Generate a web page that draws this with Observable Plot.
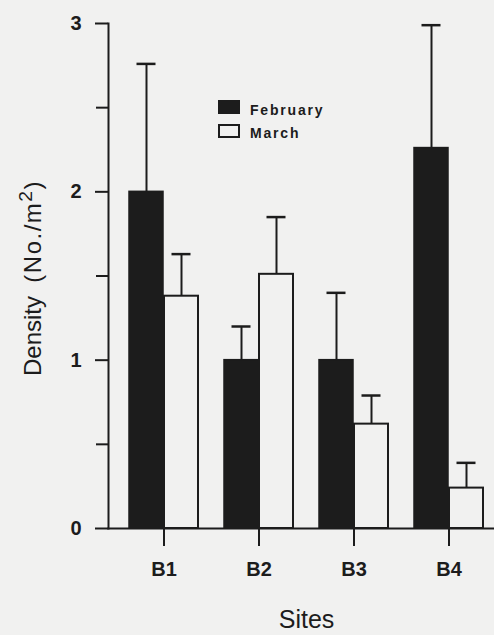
<!DOCTYPE html>
<html>
<head>
<meta charset="utf-8">
<script src="https://cdn.jsdelivr.net/npm/d3@7"></script>
<script src="https://cdn.jsdelivr.net/npm/@observablehq/plot@0.6"></script>
<style>
  html, body { margin: 0; padding: 0; background: #f1f1f0; }
  #wrap { position: relative; width: 494px; height: 635px; overflow: hidden;
          font-family: "Liberation Sans", Arial, Helvetica, sans-serif; color: #1c1c1c; }
  #wrap svg { position: absolute; left: 0; top: 0; }
  #ylab { position: absolute; left: 32.5px; top: 278px; line-height: 24px;
          transform: translate(-50%, -50%) rotate(-90deg); white-space: nowrap;
          font-size: 24px; }
  #ylab .par { letter-spacing: 1.5px; }
  #ylab sup { font-size: 0.8em; vertical-align: 0.45em; line-height: 0; }
  .sw { position: absolute; left: 218px; width: 22px; height: 14px; box-sizing: border-box; }
  .lt { position: absolute; left: 250px; font-size: 14px; line-height: 14px;
        font-weight: bold; letter-spacing: 1.8px; white-space: nowrap; }
</style>
</head>
<body>
<div id="wrap">
  <div id="ylab">Density&nbsp;&nbsp;<span class="par">(No./m<sup>2</sup>)</span></div>
</div>
<script>
// ---- data ----
const sites = ["B1", "B2", "B3", "B4"];
const months = ["February", "March"];
const febMean = [2.00, 1.00, 1.00, 2.26];
const febSE   = [0.76, 0.20, 0.40, 0.73];
const marMean = [1.38, 1.51, 0.62, 0.24];
const marSE   = [0.25, 0.34, 0.17, 0.15];
const yTicks = [0, 1, 2, 3];
const yMinorTicks = [0.5, 1.5, 2.5];

const feb = sites.map((s, i) => ({site: s, month: months[0], mean: febMean[i], top: febMean[i] + febSE[i]}));
const mar = sites.map((s, i) => ({site: s, month: months[1], mean: marMean[i], top: marMean[i] + marSE[i]}));

const ink = "#1c1c1c";
const halfBar = 17.5;

const chart = Plot.plot({
  width: 494,
  height: 635,
  marginLeft: 108,
  marginRight: 0,
  marginTop: 23,
  marginBottom: 107,
  style: {background: "transparent", color: ink, fontFamily: "Liberation Sans, Arial, Helvetica, sans-serif"},
  x: {domain: sites, range: [107, 505], paddingInner: 0.27, paddingOuter: 0.2083},
  y: {domain: [0, 3]},
  marks: [
    Plot.barY(feb, {x: "site", y: "mean", fill: ink, stroke: ink, strokeWidth: 1.5, insetRight: 35}),
    Plot.barY(mar, {x: "site", y: "mean", fill: "none", stroke: ink, strokeWidth: 2, insetLeft: 35}),
    Plot.ruleX(feb, {x: "site", y1: "mean", y2: "top", dx: -halfBar, stroke: ink, strokeWidth: 2}),
    Plot.tickY(feb, {x: "site", y: "top", dx: -halfBar, insetLeft: 25, insetRight: 25, stroke: ink, strokeWidth: 2.5}),
    Plot.ruleX(mar, {x: "site", y1: "mean", y2: "top", dx: halfBar, stroke: ink, strokeWidth: 2}),
    Plot.tickY(mar, {x: "site", y: "top", dx: halfBar, insetLeft: 25, insetRight: 25, stroke: ink, strokeWidth: 2.5}),
    Plot.frame({anchor: "left", stroke: ink, strokeWidth: 2}),
    Plot.frame({anchor: "bottom", stroke: ink, strokeWidth: 2}),
    Plot.axisY({ticks: yTicks, tickSize: 13, tickPadding: 14, stroke: ink, strokeWidth: 2,
                tickFormat: d3.format("d"), fontSize: 20, fontWeight: "bold", label: null}),
    Plot.axisY({ticks: yMinorTicks, tickSize: 12, stroke: ink, strokeWidth: 2, tickFormat: () => "", label: null}),
    Plot.axisX({tickSize: 18, tickPadding: 15, stroke: ink, strokeWidth: 2,
                fontSize: 20, fontWeight: "bold", label: null}),
    Plot.text(["Sites"], {frameAnchor: "bottom", dx: 5, dy: 91, lineAnchor: "middle", fontSize: 25, fill: ink})
  ]
});

const wrap = document.getElementById("wrap");
wrap.insertBefore(chart, wrap.firstChild);

// legend
const legendRows = [
  {label: months[0], top: 100, fill: ink, border: "none", textTop: 103},
  {label: months[1], top: 124, fill: "transparent", border: "2px solid " + ink, textTop: 126}
];
legendRows.forEach(r => {
  const sw = document.createElement("div");
  sw.className = "sw";
  sw.style.top = r.top + "px";
  sw.style.background = r.fill;
  sw.style.border = r.border;
  wrap.appendChild(sw);
  const t = document.createElement("div");
  t.className = "lt";
  t.style.top = r.textTop + "px";
  t.textContent = r.label;
  wrap.appendChild(t);
});
</script>
</body>
</html>
